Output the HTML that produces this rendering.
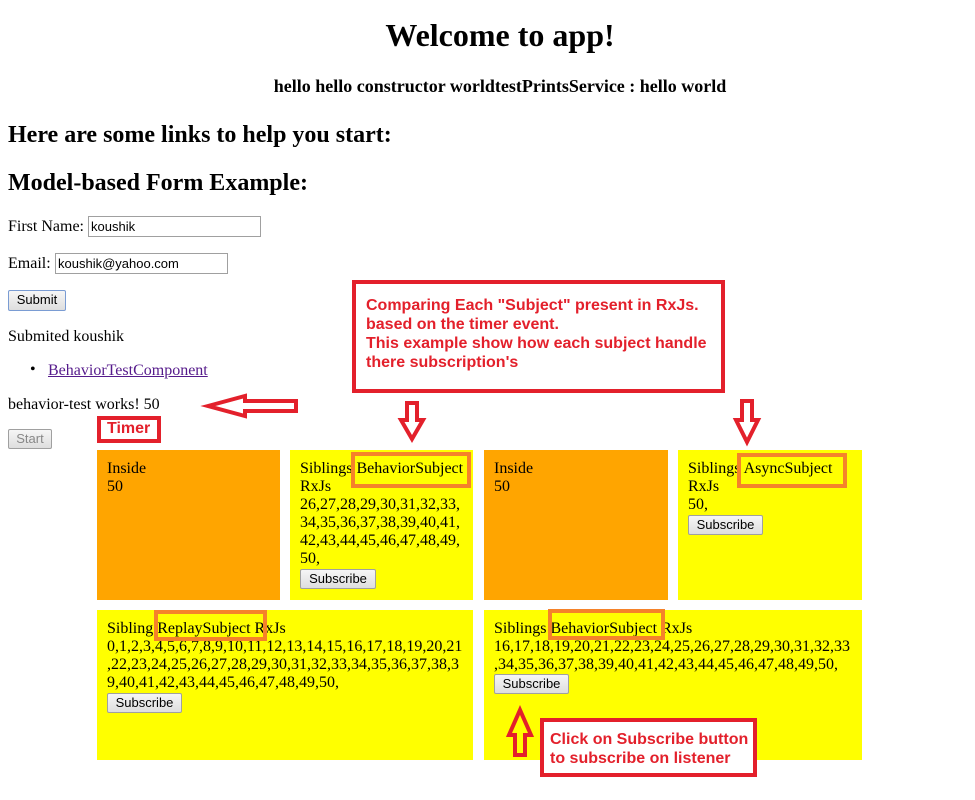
<!DOCTYPE html>
<html><head><meta charset="utf-8"><style>
body{margin:0;width:975px;height:800px;background:#fff;position:relative;font-family:"Liberation Serif",serif;font-size:16px;color:#000;overflow:hidden}
.a{position:absolute;white-space:nowrap}
.inp{position:absolute;border:1px solid #a0a0a0;font-family:"Liberation Sans",sans-serif;font-size:13px;padding:1px 2px;box-sizing:border-box;height:21px;line-height:17px;background:#fff}
.btn{position:absolute;border:1px solid #a0a0a0;border-radius:2px;background:linear-gradient(#f6f6f6,#dedede);font-family:"Liberation Sans",sans-serif;font-size:13px;text-align:center;box-sizing:border-box;line-height:18px;height:20px}
.box{position:absolute;line-height:18px;padding:10px;box-sizing:border-box;white-space:nowrap;overflow:hidden}
.or{background:#ffa500}.ye{background:#ffff00}
.hl{position:absolute;border:4px solid #f5822a;box-sizing:border-box}
.red{position:absolute;border:4px solid #e3202b;box-sizing:border-box}
.rt{position:absolute;color:#e3202b;font-family:"Liberation Sans",sans-serif;font-weight:bold;font-size:16px;line-height:19px;white-space:nowrap}
</style></head><body>
<div class="a" style="left:0;width:1000px;text-align:center;top:17px;font-size:32px;font-weight:bold">Welcome to app!</div>
<div class="a" style="left:0;width:1000px;text-align:center;top:76px;font-size:18px;font-weight:bold">hello hello constructor worldtestPrintsService : hello world</div>
<div class="a" style="left:8px;top:122px;font-size:24px;font-weight:bold">Here are some links to help you start:</div>
<div class="a" style="left:8px;top:170px;font-size:24px;font-weight:bold">Model-based Form Example:</div>
<div class="a" style="left:8px;top:218px">First Name:</div>
<div class="inp" style="left:88px;top:216px;width:173px">koushik</div>
<div class="a" style="left:8px;top:255px">Email:</div>
<div class="inp" style="left:55px;top:253px;width:173px">koushik@yahoo.com</div>
<div class="btn" style="left:8px;top:290px;width:58px;height:21px;border-color:#7a9cd3">Submit</div>
<div class="a" style="left:8px;top:328px">Submited koushik</div>
<div class="a" style="left:30px;top:361px">•</div>
<div class="a" style="left:48px;top:362px;color:#551a8b;text-decoration:underline">BehaviorTestComponent</div>
<div class="a" style="left:8px;top:396px">behavior-test works! 50</div>
<div class="btn" style="left:8px;top:429px;width:44px;color:#888">Start</div>

<div class="box or" style="left:97px;top:450px;width:183px;height:150px">Inside<br>50</div>
<div class="box ye" style="left:290px;top:450px;width:183px;height:150px">Siblings BehaviorSubject<br>RxJs<br>26,27,28,29,30,31,32,33,<br>34,35,36,37,38,39,40,41,<br>42,43,44,45,46,47,48,49,<br>50,</div>
<div class="btn" style="left:300px;top:569px;width:76px">Subscribe</div>
<div class="box or" style="left:484px;top:450px;width:184px;height:150px">Inside<br>50</div>
<div class="box ye" style="left:678px;top:450px;width:184px;height:150px">Siblings AsyncSubject<br>RxJs<br>50,</div>
<div class="btn" style="left:688px;top:515px;width:75px">Subscribe</div>
<div class="box ye" style="left:97px;top:610px;width:376px;height:150px">Sibling  ReplaySubject RxJs<br>0,1,2,3,4,5,6,7,8,9,10,11,12,13,14,15,16,17,18,19,20,21<br>,22,23,24,25,26,27,28,29,30,31,32,33,34,35,36,37,38,3<br>9,40,41,42,43,44,45,46,47,48,49,50,</div>
<div class="btn" style="left:107px;top:693px;width:75px">Subscribe</div>
<div class="box ye" style="left:484px;top:610px;width:378px;height:150px">Siblings BehaviorSubject RxJs<br>16,17,18,19,20,21,22,23,24,25,26,27,28,29,30,31,32,33<br>,34,35,36,37,38,39,40,41,42,43,44,45,46,47,48,49,50,</div>
<div class="btn" style="left:494px;top:674px;width:75px">Subscribe</div>

<div class="hl" style="left:351px;top:452px;width:120px;height:36px"></div>
<div class="hl" style="left:737px;top:453px;width:110px;height:35px"></div>
<div class="hl" style="left:154px;top:610px;width:113px;height:31px"></div>
<div class="hl" style="left:548px;top:609px;width:117px;height:31px"></div>

<div class="red" style="left:352px;top:280px;width:373px;height:113px;background:#fff"></div>
<div class="rt" style="left:366px;top:296px">Comparing Each "Subject" present in RxJs.<br>based on the timer event.<br>This example show how each subject handle<br>there subscription's</div>
<div class="red" style="left:97px;top:416px;width:64px;height:27px;background:#fff"></div>
<div class="rt" style="left:107px;top:419px">Timer</div>
<div class="red" style="left:540px;top:718px;width:217px;height:59px;background:#fff"></div>
<div class="rt" style="left:550px;top:730px">Click on Subscribe button<br>to subscribe on listener</div>

<svg class="a" style="left:0;top:0" width="975" height="800">
<g fill="none" stroke="#e3202b" stroke-width="4" stroke-linejoin="miter">
<polygon points="208,406 245,396 245,401 296,401 296,411 245,411 245,416"/>
<polygon points="407,403 417,403 417,420 423,420 412,439 401,420 407,420"/>
<polygon points="742,401 752,401 752,420 758,420 747,442 736,420 742,420"/>
<polygon points="515,755 525,755 525,735 531,735 520,710 509,735 515,735"/>
</g>
</svg>
</body></html>
